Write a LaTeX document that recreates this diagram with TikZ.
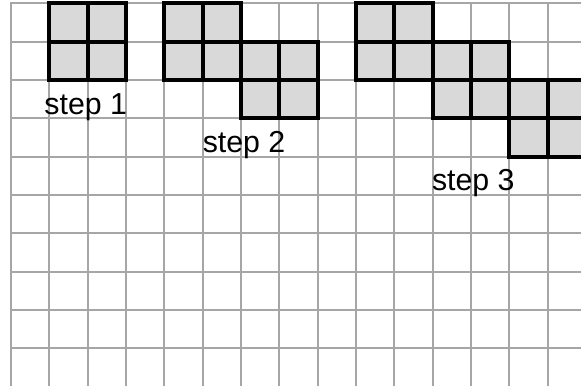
\documentclass[tikz,border=0pt]{standalone}
\usepackage{fontspec}
\setmainfont{Liberation Sans}
\tikzset{
  gridln/.style={draw=black!35,line width=1.5pt,line cap=rect},
  cell/.style={rectangle,draw=black,fill=black!15,line width=2.8pt,minimum size=1cm,inner sep=0pt},
  lbl/.style={anchor=base,font=\fontsize{22.5}{26}\selectfont,inner sep=0pt}
}
\begin{document}
\begin{tikzpicture}
\useasboundingbox (-0.287,0.086) rectangle (14.87,-9.958);
\clip (-0.287,0.086) rectangle (14.87,-9.958);
% background grid
\foreach \i in {0,...,15}{\draw[gridln] (\i,0) -- (\i,-10.5);}
\foreach \j in {0,...,10}{\draw[gridln] (0,-\j) -- (15.5,-\j);}
% step 1
\foreach \c/\r in {1/0,2/0,1/1,2/1}{\node[cell] (a\c\r) at (\c+0.5,-\r-0.5) {};}
% step 2
\foreach \c/\r in {4/0,5/0,4/1,5/1,6/1,7/1,6/2,7/2}{\node[cell] (b\c\r) at (\c+0.5,-\r-0.5) {};}
% step 3
\foreach \c/\r in {9/0,10/0,9/1,10/1,11/1,12/1,11/2,12/2,13/2,14/2,13/3,14/3}{\node[cell] (c\c\r) at (\c+0.5,-\r-0.5) {};}
% labels
\node[lbl] (s1) at (1.95,-2.89) {step 1};
\node[lbl] (s2) at (6.08,-3.9) {step 2};
\node[lbl] (s3) at (12.06,-4.89) {step 3};
\end{tikzpicture}
\end{document}
